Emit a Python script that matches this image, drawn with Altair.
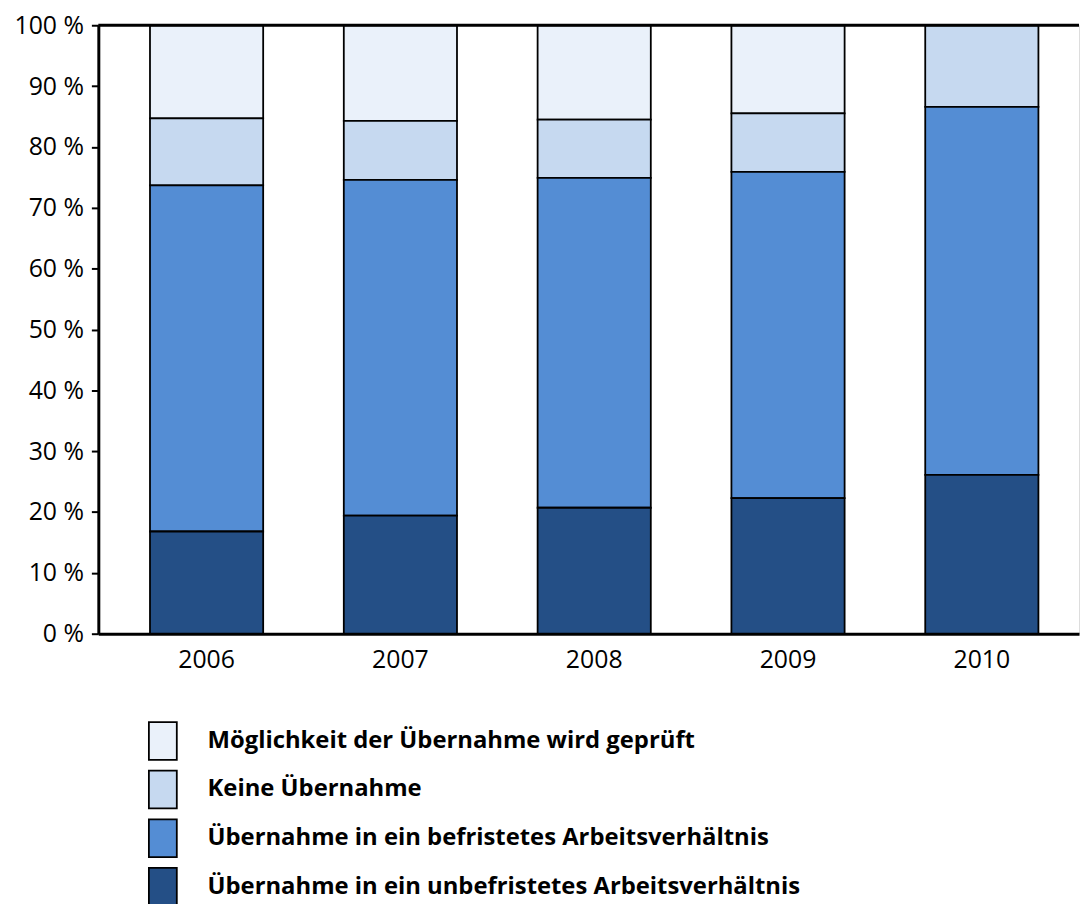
import altair as alt
import pandas as pd

years = ["2006", "2007", "2008", "2009", "2010"]
categories = [
    "Möglichkeit der Übernahme wird geprüft",
    "Keine Übernahme",
    "Übernahme in ein befristetes Arbeitsverhältnis",
    "Übernahme in ein unbefristetes Arbeitsverhältnis",
]
colors = ["#EAF1FA", "#C6D9F0", "#548DD4", "#244F86"]

unbefristet = [16.8, 19.4, 20.7, 22.3, 26.1]
befristet = [56.9, 55.2, 54.2, 53.6, 60.5]
keine = [11.0, 9.7, 9.6, 9.6, 13.4]
geprueft = [15.3, 15.7, 15.5, 14.5, 0.0]

series = [geprueft, keine, befristet, unbefristet]

rows = []
for ci, (cat, vals) in enumerate(zip(categories, series)):
    for y, v in zip(years, vals):
        if v > 0:
            rows.append({"Jahr": y, "Kategorie": cat, "Wert": v, "ord": 3 - ci})
df = pd.DataFrame(rows)

FONT = "Open Sans"

bars = alt.Chart(df).mark_bar(stroke="black", strokeWidth=1.8).encode(
    x=alt.X(
        "Jahr:N",
        sort=years,
        scale=alt.Scale(paddingInner=0.416, paddingOuter=0.238, align=0.56),
        axis=alt.Axis(
            title=None, labelAngle=0, ticks=False, labelFontSize=25,
            labelPadding=14, labelColor="black", labelFont=FONT,
            domainColor="black", domainWidth=3,
        ),
    ),
    y=alt.Y(
        "Wert:Q",
        stack="zero",
        scale=alt.Scale(domain=[0, 100], nice=False),
        axis=alt.Axis(
            title=None, values=list(range(0, 101, 10)),
            labelExpr="datum.value + ' %'", tickSize=7, tickWidth=2,
            tickColor="black", domainColor="black", domainWidth=3,
            grid=False, labelFontSize=25, labelPadding=8,
            labelColor="black", labelFont=FONT,
        ),
    ),
    color=alt.Color(
        "Kategorie:N",
        scale=alt.Scale(domain=categories, range=colors),
        legend=alt.Legend(
            title=None, orient="none", legendX=45, legendY=701,
            direction="vertical",
            symbolType="M-0.74,-1H0.74V1H-0.74Z", symbolSize=1444,
            symbolStrokeColor="black", symbolStrokeWidth=1.8,
            symbolOpacity=1, labelFontSize=24, labelFontWeight="bold",
            labelFont=FONT, labelColor="black", rowPadding=3,
            labelOffset=25, labelLimit=1000, padding=0,
        ),
    ),
    order=alt.Order("ord:Q", sort="ascending"),
)

top_rule = alt.Chart(pd.DataFrame({"y": [100]})).mark_rule(
    color="black", strokeWidth=3
).encode(y="y:Q")

chart = alt.layer(bars, top_rule).properties(
    width=988, height=613,
    padding={"left": 5, "top": 2, "right": 0, "bottom": 0},
).configure_view(stroke=None).configure(font=FONT)

chart.save("out.html", embed_options={"renderer": "svg", "actions": False})
